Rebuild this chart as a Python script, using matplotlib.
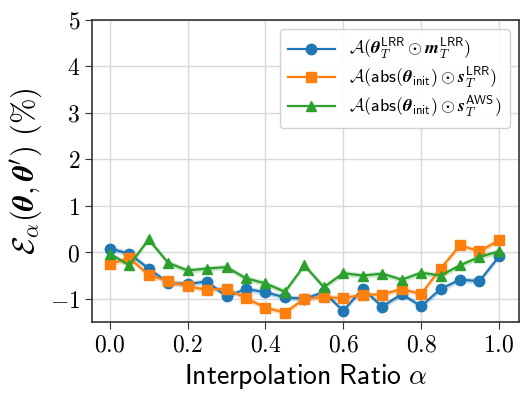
import numpy as np
from matplotlib import pyplot as plt

plt.rcParams['mathtext.fontset'] = 'cm'
plt.rcParams['font.family'] = 'serif'
plt.rcParams['font.serif'] = ['DejaVu Serif']

# interpolation ratios
alpha = [0.0, 0.05, 0.1, 0.15, 0.2, 0.25, 0.3, 0.35, 0.4, 0.45, 0.5,
         0.55, 0.6, 0.65, 0.7, 0.75, 0.8, 0.85, 0.9, 0.95, 1.0]

# error barrier (%)
lrr_mask = [0.08, -0.03, -0.35, -0.66, -0.68, -0.63, -0.95, -0.79, -0.86, -0.97, -1.0,
            -0.86, -1.26, -0.78, -1.17, -0.9, -1.16, -0.79, -0.59, -0.62, -0.09]
abs_lrr = [-0.26, -0.12, -0.49, -0.62, -0.73, -0.81, -0.78, -0.99, -1.19, -1.3, -1.0,
           -0.96, -0.99, -0.91, -0.91, -0.79, -0.9, -0.35, 0.15, 0.02, 0.26]
abs_aws = [-0.03, -0.28, 0.28, -0.23, -0.39, -0.35, -0.32, -0.56, -0.67, -0.85, -0.28,
           -0.75, -0.45, -0.5, -0.46, -0.59, -0.44, -0.5, -0.28, -0.1, 0.02]
spread = 0.06

labels = [r'$\mathcal{A}(\boldsymbol{\theta}_T^{\mathsf{LRR}} \odot \boldsymbol{m}_T^{\mathsf{LRR}})$',
          r'$\mathcal{A}(\mathsf{abs}(\boldsymbol{\theta}_{\mathsf{init}}) \odot \boldsymbol{s}_T^{\mathsf{LRR}})$',
          r'$\mathcal{A}(\mathsf{abs}(\boldsymbol{\theta}_{\mathsf{init}}) \odot \boldsymbol{s}_T^{\mathsf{AWS}})$']
colors = ['#1f77b4', '#ff7f0e', '#2ca02c']
markers = ['o', 's', '^']

fig = plt.figure(figsize=(5.31, 3.99), dpi=100)
ax = fig.add_subplot(111)
fig.subplots_adjust(left=0.173, right=0.977, top=0.95, bottom=0.193)

for ys, lab, c, m in zip([lrr_mask, abs_lrr, abs_aws], labels, colors, markers):
	ys = np.array(ys)
	ax.fill_between(alpha, ys - spread, ys + spread, color=c, alpha=0.25, linewidth=0)
	ax.plot(alpha, ys, color=c, marker=m, markersize=7.5, linewidth=1.6, label=lab)

ax.set_ylim(-1.5, 5)
ax.set_xlim(-0.046, 1.051)
ax.set_xticks([0.0, 0.2, 0.4, 0.6, 0.8, 1.0])
ax.set_xticklabels([r'$%.1f$' % v for v in [0.0, 0.2, 0.4, 0.6, 0.8, 1.0]])
ax.set_yticks([-1, 0, 1, 2, 3, 4, 5])
ax.set_yticklabels([r'$%d$' % v for v in [-1, 0, 1, 2, 3, 4, 5]])
ax.tick_params(labelsize=17, direction='out', length=5, color='#333333')
ax.grid(color='#d9d9d9', linewidth=1)
ax.set_axisbelow(True)
for s in ax.spines.values():
	s.set_color('#333333')
	s.set_linewidth(1.2)

ax.set_xlabel(r'$\mathsf{Interpolation\ Ratio}\ \alpha$', fontsize=20)
ax.set_ylabel(r'$\mathcal{E}_\alpha(\boldsymbol{\theta}, \boldsymbol{\theta}^\prime)\ \mathbf{(\%)}$', fontsize=22)

ax.legend(loc='upper right', fontsize=13, framealpha=0.9, edgecolor='#cccccc',
          labelspacing=0.2, handlelength=2.6, borderpad=0.45)

plt.savefig('out.png', dpi=100)
